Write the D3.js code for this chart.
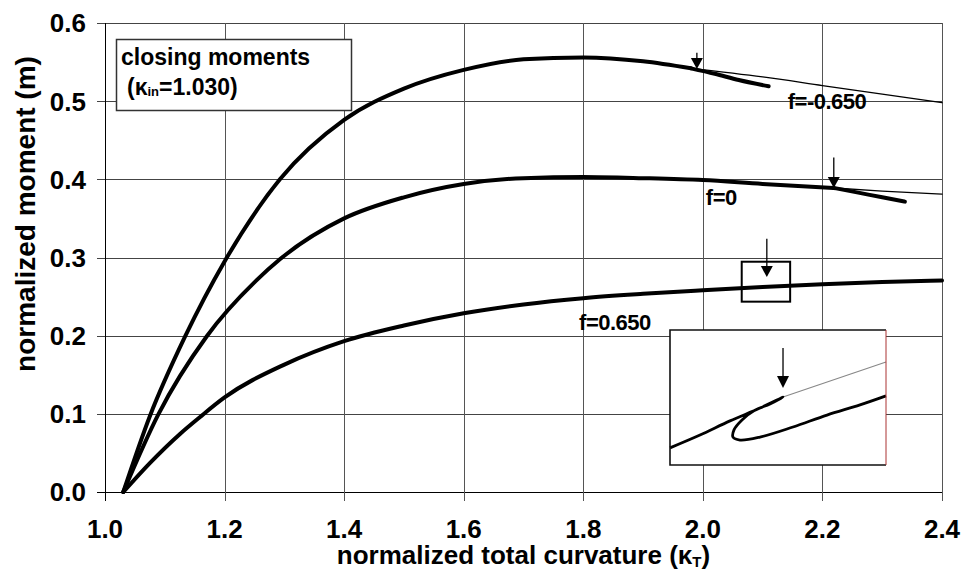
<!DOCTYPE html>
<html>
<head>
<meta charset="utf-8">
<script src="https://cdn.jsdelivr.net/npm/d3@7/dist/d3.min.js"></script>
<style>
  html, body { margin: 0; padding: 0; background: #fff; }
  svg { display: block; font-family: "Liberation Sans", Arial, sans-serif; font-weight: bold; }
</style>
</head>
<body>
<svg id="chart" width="965" height="579"></svg>
<script>
// Axis ticks
const kappaTicks = [1.0, 1.2, 1.4, 1.6, 1.8, 2.0, 2.2, 2.4];
const momentTicks = [0.0, 0.1, 0.2, 0.3, 0.4, 0.5, 0.6];

// Closing-moment curves [kappa_T, m]
const curveNeg = [[1.0306,0],[1.075,0.097],[1.134,0.199],[1.2,0.295],[1.2926,0.400],[1.4,0.476],[1.5,0.516],[1.6,0.540],[1.7,0.5535],[1.8,0.556],[1.9,0.551],[1.98,0.542]];
const curveNegTail = [[1.98,0.542],[2.02,0.535],[2.06,0.527],[2.11,0.519]];
const curveNegThin = [[1.98,0.542],[2.1,0.531],[2.2,0.520],[2.3,0.509],[2.4,0.498]];

const curveZero = [[1.0306,0],[1.089,0.099],[1.17,0.199],[1.2537,0.271],[1.293,0.298],[1.4,0.350],[1.5,0.377],[1.6,0.394],[1.7,0.4015],[1.8,0.403],[1.9,0.4015],[2.0,0.399],[2.1,0.394],[2.219,0.389]];
const curveZeroTail = [[2.219,0.389],[2.26,0.383],[2.3,0.377],[2.338,0.3715]];
const curveZeroThin = [[2.219,0.389],[2.3,0.385],[2.4,0.381]];

const curvePos = [[1.0306,0],[1.075,0.037],[1.125,0.074],[1.159,0.096],[1.2,0.121],[1.3,0.163],[1.4,0.193],[1.5,0.213],[1.6,0.2286],[1.7,0.240],[1.8,0.248],[1.9,0.2535],[2.0,0.258],[2.1,0.2622],[2.2,0.2658],[2.3,0.2685],[2.4,0.2705]];

// Curve labels [text, kappa, m]
const curveLabels = [["f=-0.650", 2.142, 0.490], ["f=0", 2.005, 0.367], ["f=0.650", 1.793, 0.207]];

// Arrows marking the branch points [kappa, m start, m tip]
const arrows = [[1.99, 0.562, 0.541], [2.219, 0.428, 0.389], [2.107, 0.324, 0.275]];

// Magnified detail window on the f=0.650 curve
const zoomKappa = [2.065, 2.146];
const zoomMoment = [0.2435, 0.2946];
const insetMoment = [0.2615, 0.2675];
const insetPath = [[2.065,0.26226],[2.07625,0.26283],[2.0875,0.26346],[2.09875,0.26403],[2.10738,0.26452],[2.1025,0.26421],[2.09688,0.26394],[2.092,0.2635],[2.089,0.26306],[2.08863,0.26274],[2.09125,0.26261],[2.09875,0.26274],[2.11113,0.26319],[2.12388,0.26372],[2.13625,0.26417],[2.146,0.26457]];
const insetThin = [[2.10738,0.26452],[2.146,0.26608]];
const insetArrow = [2.10738, 0.2667, 0.26492];

const svg = d3.select("#chart");
const W = 965, H = 579;
const plot = { left: 105, right: 942, top: 23, bottom: 492 };

svg.append("rect").attr("width", W).attr("height", H).attr("fill", "#fff");

const x = d3.scaleLinear().domain([1.0, 2.4]).range([plot.left, plot.right]);
const y = d3.scaleLinear().domain([0, 0.6]).range([plot.bottom, plot.top]);

// Grid
const grid = svg.append("g").attr("shape-rendering", "crispEdges");
grid.selectAll(".hg").data(momentTicks).join("line")
  .attr("x1", plot.left - 8).attr("x2", plot.right)
  .attr("y1", d => Math.round(y(d)) + 0.5).attr("y2", d => Math.round(y(d)) + 0.5)
  .attr("stroke", d => d === 0 ? "#000" : "#444").attr("stroke-width", 1);
grid.selectAll(".vg").data(kappaTicks).join("line")
  .attr("y1", plot.top).attr("y2", plot.bottom + 9)
  .attr("x1", d => Math.round(x(d)) + 0.5).attr("x2", d => Math.round(x(d)) + 0.5)
  .attr("stroke", d => d === 1.0 ? "#000" : "#555").attr("stroke-width", 1);

// Tick labels
svg.append("g").selectAll("text").data(momentTicks).join("text")
  .attr("x", 86).attr("y", d => y(d)).attr("dy", "0.36em")
  .attr("text-anchor", "end").attr("font-size", 26)
  .text(d => d3.format(".1f")(d));
svg.append("g").selectAll("text").data(kappaTicks).join("text")
  .attr("x", d => x(d)).attr("y", 538)
  .attr("text-anchor", "middle").attr("font-size", 26)
  .text(d => d3.format(".1f")(d));

// Axis titles
const xt = svg.append("text").attr("x", (plot.left + plot.right) / 2).attr("y", 564)
  .attr("text-anchor", "middle").attr("font-size", 26);
xt.append("tspan").text("normalized total curvature (κ");
xt.append("tspan").attr("font-size", 15).attr("dy", 3).text("T");
xt.append("tspan").attr("dy", -3).text(")");

svg.append("text").attr("transform", "translate(35,214) rotate(-90)")
  .attr("text-anchor", "middle").attr("font-size", 28)
  .text("normalized moment (m)");

// Curves
const line = d3.line().x(d => x(d[0])).y(d => y(d[1])).curve(d3.curveMonotoneX);
const curves = svg.append("g").attr("fill", "none").attr("stroke", "#000").attr("stroke-linecap", "round");
[curveNegThin, curveZeroThin].forEach(c =>
  curves.append("path").attr("d", line(c)).attr("stroke-width", 1.3));
[curveNeg, curveNegTail, curveZero, curveZeroTail, curvePos].forEach(c =>
  curves.append("path").attr("d", line(c)).attr("stroke-width", 4));

// Curve labels
svg.append("g").selectAll("text").data(curveLabels).join("text")
  .attr("x", d => x(d[1])).attr("y", d => y(d[2]))
  .attr("font-size", 22).attr("letter-spacing", -0.5)
  .text(d => d[0]);

// Arrow drawing helper
function drawArrow(g, px, py0, py1, head) {
  g.append("line").attr("x1", px).attr("x2", px).attr("y1", py0).attr("y2", py1 - head + 1)
    .attr("stroke", "#000").attr("stroke-width", 1.3);
  g.append("path")
    .attr("d", `M${px - 6},${py1 - head} L${px + 6},${py1 - head} L${px},${py1} Z`)
    .attr("fill", "#000");
}
const arrowG = svg.append("g");
arrows.forEach(a => drawArrow(arrowG, x(a[0]), y(a[1]), y(a[2]), 11));

// Detail window marker
svg.append("rect")
  .attr("x", x(zoomKappa[0])).attr("y", y(zoomMoment[1]))
  .attr("width", x(zoomKappa[1]) - x(zoomKappa[0]))
  .attr("height", y(zoomMoment[0]) - y(zoomMoment[1]))
  .attr("fill", "none").attr("stroke", "#000").attr("stroke-width", 2);

// Inset with the magnified curve
const inset = { left: 670, right: 886, top: 330, bottom: 465 };
const ix = d3.scaleLinear().domain(zoomKappa).range([inset.left, inset.right]);
const iy = d3.scaleLinear().domain(insetMoment).range([inset.bottom, inset.top]);
const ig = svg.append("g");
ig.append("rect").attr("x", inset.left).attr("y", inset.top)
  .attr("width", inset.right - inset.left).attr("height", inset.bottom - inset.top)
  .attr("fill", "#fff");
const iline = d3.line().x(d => ix(d[0])).y(d => iy(d[1])).curve(d3.curveCatmullRom.alpha(0.5));
ig.append("path").attr("d", iline(insetThin)).attr("fill", "none").attr("stroke", "#888").attr("stroke-width", 1.2);
ig.append("path").attr("d", iline(insetPath)).attr("fill", "none").attr("stroke", "#000").attr("stroke-width", 2.8);
drawArrow(ig, ix(insetArrow[0]), iy(insetArrow[1]), iy(insetArrow[2]), 12);
ig.append("path")
  .attr("d", `M${inset.right},${inset.bottom} L${inset.left},${inset.bottom} L${inset.left},${inset.top} L${inset.right},${inset.top}`)
  .attr("fill", "none").attr("stroke", "#111").attr("stroke-width", 1.6);
ig.append("line").attr("x1", inset.right).attr("x2", inset.right).attr("y1", inset.top).attr("y2", inset.bottom)
  .attr("stroke", "#a33").attr("stroke-width", 1);

// Legend box
const lg = svg.append("g");
lg.append("rect").attr("x", 116.5).attr("y", 39.5).attr("width", 235).attr("height", 71)
  .attr("fill", "#fff").attr("stroke", "#333").attr("stroke-width", 1.5);
lg.append("text").attr("x", 121).attr("y", 65).attr("font-size", 23).text("closing moments");
const l2 = lg.append("text").attr("x", 127).attr("y", 95).attr("font-size", 23);
l2.append("tspan").text("(κ");
l2.append("tspan").attr("font-size", 13).attr("dy", 1).text("in");
l2.append("tspan").attr("dy", -1).text("=1.030)");
</script>
</body>
</html>
